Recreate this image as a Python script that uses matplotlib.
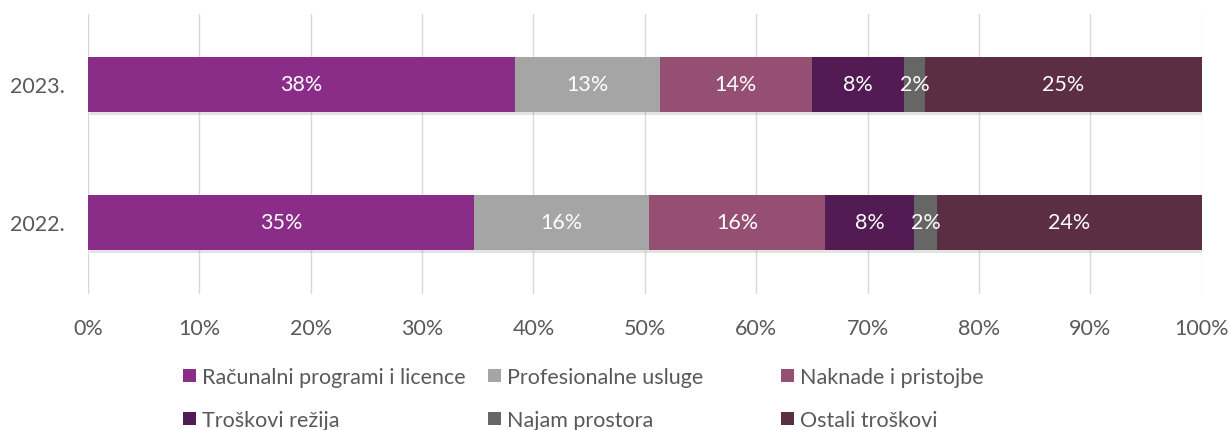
import numpy as np
import matplotlib
matplotlib.use("Agg")
import matplotlib.pyplot as plt
import matplotlib.patheffects as pe
from matplotlib.patches import Patch

plt.rcParams['font.family'] = ['Lato', 'DejaVu Sans']

# podaci
godine = ['2022.', '2023.']
kategorije = ['Računalni programi i licence', 'Profesionalne usluge', 'Naknade i pristojbe',
              'Troškovi režija', 'Najam prostora', 'Ostali troškovi']
udjeli_2022 = [34.65, 15.75, 15.8, 8.0, 2.0, 23.8]
udjeli_2023 = [38.3, 13.05, 13.65, 8.25, 1.95, 24.8]
boje = ['#8A2D89', '#A5A5A5', '#954F72', '#521B53', '#666666', '#5B2E44']

vrijednosti = np.array([udjeli_2022, udjeli_2023])
fs = 15.5

fig = plt.figure(figsize=(12.3, 4.31), dpi=100)
ax = fig.add_axes([0.0715, 0.3155, 0.9055, 0.6495])

y = np.arange(len(godine))
lijevo = np.zeros(len(godine))
sjena = [pe.SimplePatchShadow(offset=(1.5, -2.5), shadow_rgbFace='#909090', alpha=0.25), pe.Normal()]
for j, kat in enumerate(kategorije):
    v = vrijednosti[:, j]
    bars = ax.barh(y, v, left=lijevo, height=0.4, color=boje[j], label=kat, zorder=3)
    for b in bars:
        b.set_path_effects(sjena)
    for i in range(len(godine)):
        ax.text(lijevo[i] + v[i] / 2, y[i], f'{round(v[i]):.0f}%', ha='center', va='center',
                color='white', fontsize=fs, zorder=5)
    lijevo += v

ax.set_xlim(0, 100)
ax.set_ylim(-0.52, 1.51)
ax.set_xticks(np.arange(0, 101, 10))
ax.set_xticklabels([f'{t}%' for t in range(0, 101, 10)])
ax.set_yticks(y)
ax.set_yticklabels(godine)
ax.tick_params(length=0, labelsize=fs, labelcolor='#595959', pad=17)
ax.tick_params(axis='y', pad=16.5)
ax.grid(axis='x', color='#D9D9D9', linewidth=1, zorder=0)
for s in ax.spines.values():
    s.set_visible(False)

# legenda - fiksni stupci kao u Excelu
stupci_x = [183 / 1230, 488 / 1230, 781 / 1230]
redovi_y = [1 - 378 / 431, 1 - 421 / 431]
for k, kat in enumerate(kategorije):
    fig.legend(handles=[Patch(facecolor=boje[k], label=kat)], loc='center left',
               bbox_to_anchor=(stupci_x[k % 3], redovi_y[k // 3]), frameon=False,
               fontsize=fs, handlelength=0.6, handleheight=0.6, handletextpad=0.3,
               borderpad=0, borderaxespad=0, labelcolor='#595959')

fig.savefig('out.png', dpi=100)
